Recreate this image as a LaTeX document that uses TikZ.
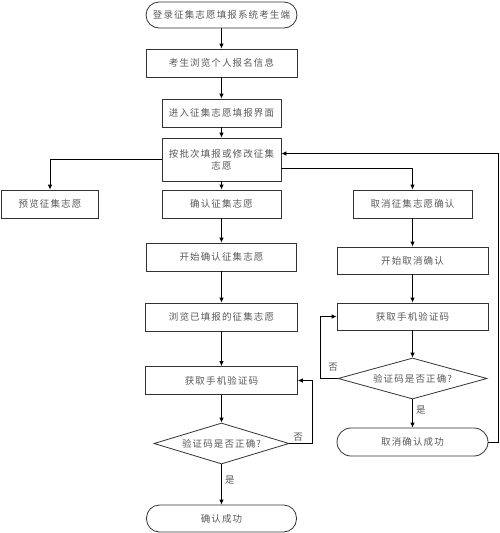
\documentclass[tikz,border=0pt]{standalone}
\usepackage{fontspec}
\usepackage{xcolor}
\usetikzlibrary{shapes.geometric,arrows.meta}
\newfontfamily\cjk[LetterSpace=12]{Noto Sans CJK SC}

\begin{document}
\begin{tikzpicture}[x=1pt,y=-1pt,>={Latex[length=5pt,width=4.5pt]},
    every node/.style={font=\cjk\fontsize{9.5}{12}\selectfont,text=black!65},
    box/.style={draw=black!80,thick,rectangle,minimum height=28pt,inner sep=1pt},
    term/.style={draw=black!80,thick,rectangle,rounded corners=13pt,minimum height=26pt,minimum width=151pt},
    decision/.style={draw=black!80,thick,diamond,aspect=3.3,inner sep=0pt,minimum height=41pt}]
        \useasboundingbox[fill=white] (0,0) rectangle (499,533);

        % Left column
        \node[term] (start) at (221.5,15) {登录征集志愿填报系统考生端};
        \node[box,minimum width=151pt] (info) at (221.5,63) {考生浏览个人报名信息};
        \node[box,minimum width=119pt] (enter) at (221.5,113) {进入征集志愿填报界面};
        \node[box,minimum width=119pt,minimum height=43pt,align=center] (fill) at (221.5,159.5) {按批次填报或修改征集\\志愿};
        \node[box,minimum width=97pt] (preview) at (50,204) {预览征集志愿};
        \node[box,minimum width=119pt] (confirm) at (221.5,204) {确认征集志愿};
        \node[box,minimum width=150pt] (startconf) at (221.5,257) {开始确认征集志愿};
        \node[box,minimum width=152pt] (browse) at (221.5,317) {浏览已填报的征集志愿};
        \node[box,minimum width=152pt] (codeL) at (221.5,380.5) {获取手机验证码};
        \node[decision,minimum width=135pt] (checkL) at (221.5,443.5) {验证码是否正确?};
        \node[term,minimum width=150pt,minimum height=27pt] (doneL) at (221.5,518.5) {确认成功};

        % Right column
        \node[box,minimum width=119pt] (cancel) at (412.5,204) {取消征集志愿确认};
        \node[box,minimum width=151pt,minimum height=27pt] (startcancel) at (412.5,260.5) {开始取消确认};
        \node[box,minimum width=151pt,minimum height=27pt] (codeR) at (412.5,316.5) {获取手机验证码};
        \node[decision,minimum width=149pt] (checkR) at (412.5,378.5) {验证码是否正确?};
        \node[term,minimum height=28pt,rounded corners=14pt] (doneR) at (412.5,442) {取消确认成功};

        % Main flow
        \draw[thick,->] (start) -- (info);
        \draw[thick,->] (info) -- (enter);
        \draw[thick,->] (enter) -- (fill);
        \draw[thick,->] (fill) -- (confirm);
        \draw[thick,->] (confirm) -- (startconf);
        \draw[thick,->] (startconf) -- (browse);
        \draw[thick,->] (browse) -- (codeL);
        \draw[thick,->] (codeL) -- (checkL);
        \draw[thick,->] (checkL) -- (doneL) node[pos=0.4,right] (yesL) {是};

        % Branches
        \draw[thick,->] (fill.west) -| (preview.north);
        \draw[thick,->] ([yshift=-9pt]fill.east) -| (cancel.north);
        \draw[thick,->] (cancel) -- (startcancel);
        \draw[thick,->] (startcancel) -- (codeR);
        \draw[thick,->] (codeR) -- (checkR);
        \draw[thick,->] (checkR) -- (doneR) node[pos=0.38,right] (yesR) {是};

        % Loops back
        \coordinate (noL) at (312,443.5);
        \draw[thick,->] (checkL.east) -- (noL) |- (codeL.east);
        \node (noLtxt) at (298,437) {否};
        \coordinate (noR) at (320,378.5);
        \draw[thick,->] (checkR.west) -- (noR) |- (codeR.west);
        \node (noRtxt) at (333,367) {否};
        \coordinate (back) at (498,442);
        \draw[thick,->] (doneR.east) -- (back) |- ([yshift=6pt]fill.east);
      \end{tikzpicture}
\end{document}
